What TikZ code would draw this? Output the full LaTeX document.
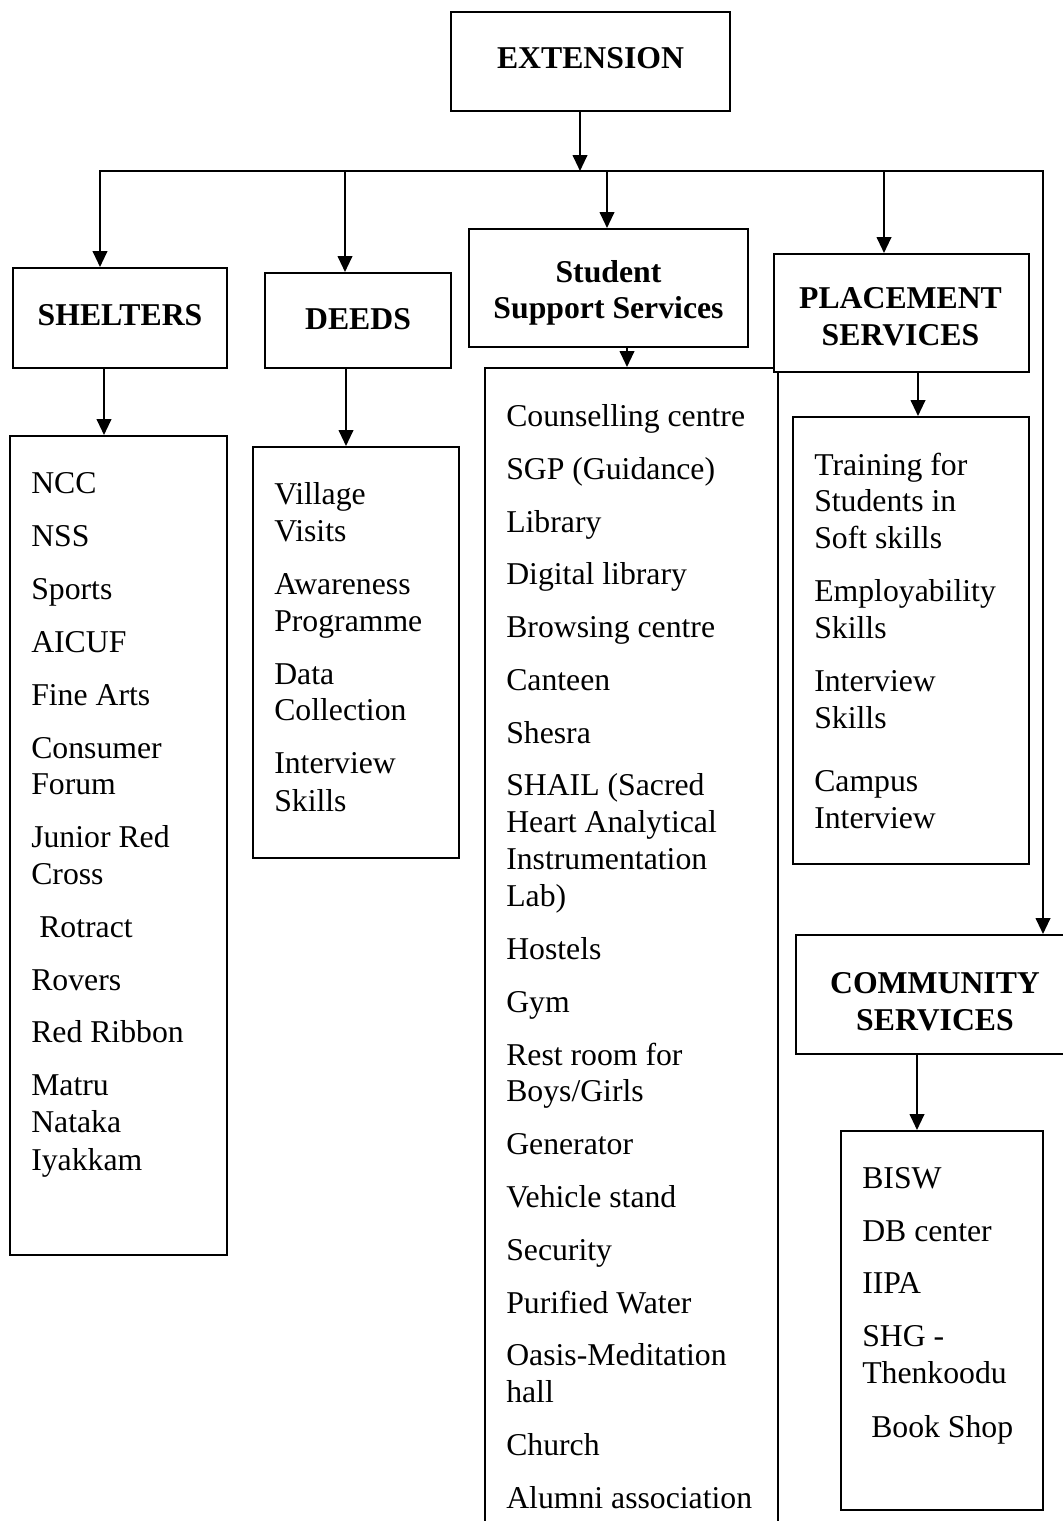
\documentclass[tikz,border=0pt]{standalone}
\usepackage{fontspec}
\setmainfont{Liberation Serif}
\usetikzlibrary{arrows.meta,fit,calc}
\begin{document}
\begin{tikzpicture}[x=0.75pt,y=-0.75pt,
  box/.style={draw,line width=1.5pt,inner sep=0pt,fill=white},
  headtext/.style={align=center,inner sep=0pt,font=\fontsize{23.8pt}{27.5pt}\selectfont\bfseries},
  item/.style={anchor=base west,inner sep=0pt,font=\fontsize{23.8pt}{27pt}\selectfont},
  arr/.style={line width=1.5pt,line cap=rect,-{Triangle[width=11pt,length=12pt]}},
  bus/.style={line width=1.5pt,line cap=rect}]
\useasboundingbox (0,0) rectangle (1063,1521);

% heading boxes and list boxes
\node[box, fit={(451,12) (730,111)}] (ext) {};
\node[box, fit={(13,268) (227,368)}] (shel) {};
\node[box, fit={(265,273) (451,368)}] (deeds) {};
\node[box, fit={(469,229) (748,347)}] (sss) {};
\node[box, fit={(485,368) (778,1540)}] (ssl) {};
\node[box, fit={(774,254) (1029,372)}] (plac) {};
\node[box, fit={(796,935) (1074,1054)}] (com) {};
\node[box, fit={(10,436) (227,1255)}] (shl) {};
\node[box, fit={(253,447) (459,858)}] (dl) {};
\node[box, fit={(793,417) (1029,864)}] (pl) {};
\node[box, fit={(841,1131) (1043,1510)}] (cl) {};

% heading texts
\node[headtext] (extT) at ($(ext.center)+(0,-3)$) {EXTENSION};
\node[headtext] (shelT) at ($(shel.center)+(0,-3)$) {SHELTERS};
\node[headtext] (deedsT) at ($(deeds.center)+(0,-1)$) {DEEDS};
\node[headtext] (sssT) at ($(sss.center)+(0,5)$) {Student\\Support Services};
\node[headtext] (placT) at ($(plac.center)+(-1,4)$) {PLACEMENT\\SERVICES};
\node[headtext] (comT) at ($(com.center)+(0,7)$) {COMMUNITY\\SERVICES};

% bus coordinates
\coordinate (busL) at (100,171);
\coordinate (busR) at (1043,171);
\coordinate (xE) at (580,0);
\coordinate (xD) at (345,0);
\coordinate (xS) at (607,0);
\coordinate (xP) at (884,0);
\coordinate (xSh) at (104,0);
\coordinate (xDl) at (346,0);
\coordinate (xSl) at (627,0);
\coordinate (xPl) at (918,0);
\coordinate (xCl) at (917,0);

% connectors
\draw[arr] (xE |- ext.south) -- (xE |- busL);
\draw[bus] (busL) -- (busR);
\draw[arr] (busL) -- (busL |- shel.north);
\draw[arr] (busR) -- (busR |- com.north);
\draw[arr] (xD |- busL) -- (xD |- deeds.north);
\draw[arr] (xS |- busL) -- (xS |- sss.north);
\draw[arr] (xP |- busL) -- (xP |- plac.north);
\draw[arr] (xSh |- shel.south) -- (xSh |- shl.north);
\draw[arr] (xDl |- deeds.south) -- (xDl |- dl.north);
\draw[arr] (xSl |- sss.south) -- (xSl |- ssl.north);
\draw[arr] (xPl |- plac.south) -- (xPl |- pl.north);
\draw[arr] (xCl |- com.south) -- (xCl |- cl.north);

% SHELTERS items
\node[item] (s1) at (31,493) {NCC};
\node[item] (s2) at (31,546) {NSS};
\node[item] (s3) at (31,599) {Sports};
\node[item] (s4) at (31,652) {AICUF};
\node[item] (s5) at (31,705) {Fine Arts};
\node[item] (s6) at (31,758) {Consumer};
\node[item] (s6b) at (31,794) {Forum};
\node[item] (s7) at (31,847) {Junior Red};
\node[item] (s7b) at (31,884) {Cross};
\node[item] (s8) at (39,937) {Rotract};
\node[item] (s9) at (31,990) {Rovers};
\node[item] (s10) at (31,1042) {Red Ribbon};
\node[item] (s11) at (31,1095) {Matru};
\node[item] (s11b) at (31,1132) {Nataka};
\node[item] (s11c) at (31,1170) {Iyakkam};

% DEEDS items
\node[item] (d1) at (274,504) {Village};
\node[item] (d1b) at (274,541) {Visits};
\node[item] (d2) at (274,594) {Awareness};
\node[item] (d2b) at (274,631) {Programme};
\node[item] (d3) at (274,684) {Data};
\node[item] (d3b) at (274,720) {Collection};
\node[item] (d4) at (274,773) {Interview};
\node[item] (d4b) at (274,811) {Skills};

% Student Support Services items
\node[item] (u1) at (506,426) {Counselling centre};
\node[item] (u2) at (506,479) {SGP (Guidance)};
\node[item] (u3) at (506,532) {Library};
\node[item] (u4) at (506,584) {Digital library};
\node[item] (u5) at (506,637) {Browsing centre};
\node[item] (u6) at (506,690) {Canteen};
\node[item] (u7) at (506,743) {Shesra};
\node[item] (u8) at (506,795) {SHAIL (Sacred};
\node[item] (u8b) at (506,832) {Heart Analytical};
\node[item] (u8c) at (506,869) {Instrumentation};
\node[item] (u8d) at (506,906) {Lab)};
\node[item] (u9) at (506,959) {Hostels};
\node[item] (u10) at (506,1012) {Gym};
\node[item] (u11) at (506,1065) {Rest room for};
\node[item] (u11b) at (506,1101) {Boys/Girls};
\node[item] (u12) at (506,1154) {Generator};
\node[item] (u13) at (506,1207) {Vehicle stand};
\node[item] (u14) at (506,1260) {Security};
\node[item] (u15) at (506,1313) {Purified Water};
\node[item] (u16) at (506,1365) {Oasis-Meditation};
\node[item] (u16b) at (506,1402) {hall};
\node[item] (u17) at (506,1455) {Church};
\node[item] (u18) at (506,1508) {Alumni association};

% PLACEMENT items
\node[item] (p1) at (814,475) {Training for};
\node[item] (p1b) at (814,511) {Students in};
\node[item] (p1c) at (814,548) {Soft skills};
\node[item] (p2) at (814,601) {Employability};
\node[item] (p2b) at (814,638) {Skills};
\node[item] (p3) at (814,691) {Interview};
\node[item] (p3b) at (814,728) {Skills};
\node[item] (p4) at (814,791) {Campus};
\node[item] (p4b) at (814,828) {Interview};

% COMMUNITY items
\node[item] (c1) at (862,1188) {BISW};
\node[item] (c2) at (862,1241) {DB center};
\node[item] (c3) at (862,1293) {IIPA};
\node[item] (c4) at (862,1346) {SHG -};
\node[item] (c4b) at (862,1383) {Thenkoodu};
\node[item] (c5) at (871,1437) {Book Shop};
\end{tikzpicture}
\end{document}
